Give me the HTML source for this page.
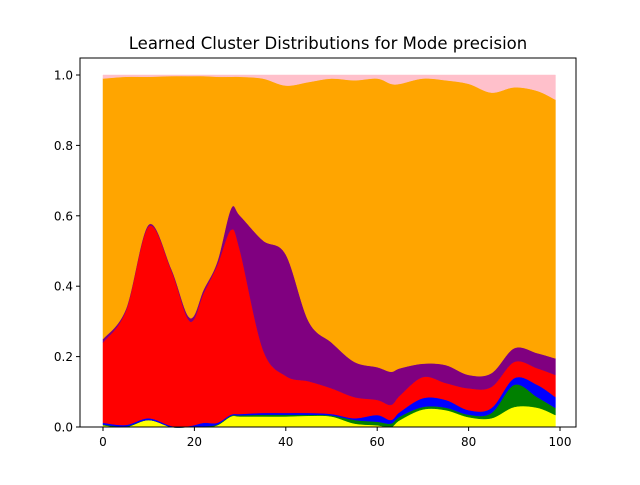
<!DOCTYPE html>
<html><head><meta charset="utf-8"><style>
body{margin:0;background:#fff;font-family:"Liberation Sans",sans-serif}
svg text{font-family:"DejaVu Sans","Liberation Sans",sans-serif}
</style></head><body>
<svg id="chart" width="640" height="480" viewBox="0 0 640 480" xmlns="http://www.w3.org/2000/svg">
<rect width="640" height="480" fill="#fff"/>
<text x="328" y="49" text-anchor="middle" font-size="16.5">Learned Cluster Distributions for Mode precision</text>
<g id="areas"></g>
<g id="axes"></g>
</svg>
<script>
const xs = [0,5,10,15,19,22,25,28,30,35,40,45,50,55,60,63,65,70,75,80,85,90,95,99];
const yellow = [.005,0,.02,0,0,0,.005,.03,.03,.03,.03,.032,.03,.01,.005,0,.02,.05,.048,.028,.025,.057,.055,.034];
const green = [.002,.002,0,0,0,.002,.002,.002,.003,.005,.005,.003,.003,.01,.01,.01,.01,.007,.007,.007,.015,.063,.03,.02];
const blue = [.005,.004,.005,.003,.003,.01,.005,.003,.004,.005,.005,.005,.004,.005,.019,.01,.013,.025,.022,.013,.014,.019,.035,.031];
const red = [.228,.324,.545,.44,.297,.368,.448,.525,.463,.18,.105,.09,.073,.06,.043,.043,.047,.06,.048,.062,.06,.046,.047,.063];
const purple = [.01,.005,.005,.005,.01,.01,.01,.06,.10,.31,.345,.17,.13,.10,.093,.094,.077,.038,.051,.038,.039,.039,.043,.047];
const orange = [.74,.66,.42,.549,.687,.607,.525,.375,.395,.46,.48,.68,.75,.80,.82,.818,.808,.81,.809,.827,.797,.741,.745,.735];
const pink = [.01,.005,.005,.003,.003,.003,.005,.005,.005,.01,.03,.02,.01,.015,.01,.025,.025,.01,.015,.025,.05,.035,.045,.07];
const xTicks = [0,20,40,60,80,100];
const yTicks = [0,0.2,0.4,0.6,0.8,1.0];
const yTickLabels = ["0.0","0.2","0.4","0.6","0.8","1.0"];

const series = [["yellow",yellow,"#ffff00"],["green",green,"#008000"],["blue",blue,"#0000ff"],["red",red,"#ff0000"],["purple",purple,"#800080"],["orange",orange,"#ffa500"],["pink",pink,"#ffc0cb"]];
const L=80,R=576,T=58,B=427;
const X = v => 103 + (v-0)*(560-103)/100;
const Y = v => 427 - v*352;
const NS="http://www.w3.org/2000/svg";
function smooth(pts){
  let d="";
  for(let i=0;i<pts.length-1;i++){
    const p0=pts[Math.max(0,i-1)],p1=pts[i],p2=pts[i+1],p3=pts[Math.min(pts.length-1,i+2)];
    const c1=[p1[0]+(p2[0]-p0[0])/6,p1[1]+(p2[1]-p0[1])/6];
    const c2=[p2[0]-(p3[0]-p1[0])/6,p2[1]-(p3[1]-p1[1])/6];
    d+=` C${c1[0]},${c1[1]} ${c2[0]},${c2[1]} ${p2[0]},${p2[1]}`;
  }
  return d;
}
let base = xs.map(()=>0);
const areas=document.getElementById('areas');
series.forEach(([name,vals,col])=>{
  const top = base.map((b,i)=>b+vals[i]);
  const tp = xs.map((x,i)=>[X(x),Y(top[i])]);
  const bp = xs.map((x,i)=>[X(x),Y(base[i])]).reverse();
  const d = `M${tp[0][0]},${tp[0][1]}`+smooth(tp)+` L${bp[0][0]},${bp[0][1]}`+smooth(bp)+"Z";
  const p=document.createElementNS(NS,'path');
  p.setAttribute('d',d);p.setAttribute('fill',col);p.setAttribute('stroke',col);p.setAttribute('stroke-width','0.5');
  
  
  areas.appendChild(p);
  base=top;
});
const ax=document.getElementById('axes');
let h=`<rect x="${L}" y="${T}" width="${R-L}" height="${B-T}" fill="none" stroke="#000" stroke-width="1"/>`;
xTicks.forEach(t=>{const x=X(t);h+=`<line x1="${x}" y1="${B}" x2="${x}" y2="${B+4}" stroke="#000"/><text x="${x}" y="${B+19}" font-size="12" text-anchor="middle">${t}</text>`;});
yTicks.forEach((t,i)=>{const y=Y(t);h+=`<line x1="${L-4}" y1="${y}" x2="${L}" y2="${y}" stroke="#000"/><text x="${L-7}" y="${y+4.5}" font-size="12" text-anchor="end">${yTickLabels[i]}</text>`;});
ax.innerHTML=h;
</script>
</body></html>
